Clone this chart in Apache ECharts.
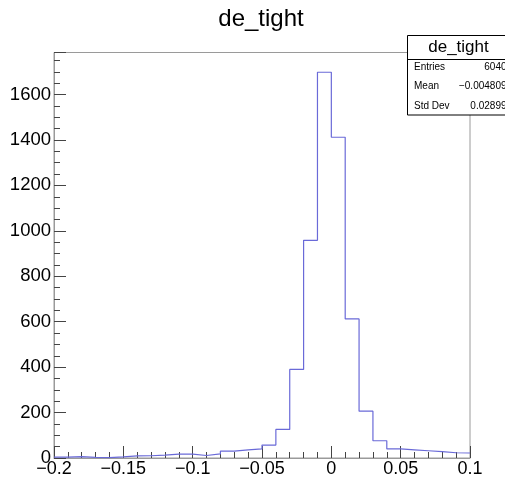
<!DOCTYPE html>
<html>
<head>
<meta charset="utf-8">
<script src="https://cdn.jsdelivr.net/npm/echarts@6/dist/echarts.min.js"></script>
<style>html,body{margin:0;padding:0;background:#fff}#c{width:505px;height:482px}</style>
</head>
<body>
<div id="c"></div>
<script>
// bin edges (x axis, width 0.01)
const binEdges = [-0.2,-0.19,-0.18,-0.17,-0.16,-0.15,-0.14,-0.13,-0.12,-0.11,-0.1,-0.09,-0.08,-0.07,-0.06,-0.05,-0.04,-0.03,-0.02,-0.01,0,0.01,0.02,0.03,0.04,0.05,0.06,0.07,0.08,0.09,0.1];
// bin contents
const counts = [4,6,3,2,5,9,10,13,17,17,11,18,30,36,40,57,126,390,958,1698,1412,612,206,76,40,36,32,28,23,22];
const xTicks = [-0.2,-0.15,-0.1,-0.05,0,0.05,0.1];
const yTicks = [0,200,400,600,800,1000,1200,1400,1600];
const titleText = 'de_tight';
const statsLabels = ['Entries','Mean','Std Dev'];
const statsValues = ['6040','\u22120.004809','0.02899'];

const FONT = '"Liberation Sans", Arial, Helvetica, sans-serif';
const chart = echarts.init(document.getElementById('c'), null, {renderer:'canvas'});

const lineData = counts.map((v,i)=>[binEdges[i], v]);
lineData.push([binEdges[binEdges.length-1], counts[counts.length-1]]);

const fmt = v => {
  const r = parseFloat(Number(v).toFixed(3));
  return String(r).replace('-', '\u2212');
};

const graphics = [
  {type:'text', style:{x:261,y:19,text:titleText, font:'24px '+FONT, fill:'#000', textAlign:'center', textVerticalAlign:'middle'}, z:10},
  {type:'rect', shape:{x:407.5,y:35.5,width:110,height:79.5}, style:{fill:'#fff', stroke:'#000', lineWidth:1}, z:20},
  {type:'line', shape:{x1:407.5,y1:59.5,x2:510,y2:59.5}, style:{stroke:'#000', lineWidth:1}, z:21},
  {type:'text', style:{x:458.5,y:47.5,text:titleText, font:'17px '+FONT, fill:'#000', textAlign:'center', textVerticalAlign:'middle'}, z:22}
];
const rowY = [67, 86.5, 106];
statsLabels.forEach((s,i)=>{
  graphics.push({type:'text', style:{x:414,y:rowY[i],text:s, font:'10px '+FONT, fill:'#000', textAlign:'left', textVerticalAlign:'middle'}, z:22});
  graphics.push({type:'text', style:{x:506.5,y:rowY[i],text:statsValues[i], font:'10px '+FONT, fill:'#000', textAlign:'right', textVerticalAlign:'middle'}, z:22});
});

chart.setOption({
  animation:false,
  backgroundColor:'#fff',
  grid:{left:54, right:35, top:52.5, bottom:24, show:true, borderColor:'#9a9a9a', borderWidth:1, backgroundColor:'transparent'},
  xAxis:{
    type:'value', min:xTicks[0], max:xTicks[xTicks.length-1], interval:0.05,
    axisLine:{show:true, onZero:false, lineStyle:{color:'#9a9a9a', width:1}},
    axisTick:{show:true, inside:true, length:12, lineStyle:{color:'#444', width:1}},
    minorTick:{show:true, splitNumber:5, length:6, lineStyle:{color:'#444', width:1}},
    splitLine:{show:false},
    axisLabel:{show:true, margin:2, color:'#000', fontSize:18, fontFamily:FONT, formatter:fmt, showMinLabel:true, showMaxLabel:true}
  },
  yAxis:{
    type:'value', min:yTicks[0], max:1785, interval:200,
    axisLine:{show:true, onZero:false, lineStyle:{color:'#9a9a9a', width:1}},
    axisTick:{show:true, inside:true, length:12, lineStyle:{color:'#444', width:1}},
    minorTick:{show:true, splitNumber:4, length:6, lineStyle:{color:'#444', width:1}},
    splitLine:{show:false},
    axisLabel:{show:true, margin:3, color:'#000', fontSize:18.5, fontFamily:FONT, showMaxLabel:false,
      formatter: v => (yTicks.indexOf(v) >= 0 ? String(v) : '')}
  },
  series:[{
    type:'line', data:lineData, step:'end', symbol:'none', clip:true,
    lineStyle:{color:'#6a6ad8', width:1.2}
  }],
  graphic: graphics
});
</script>
</body>
</html>
